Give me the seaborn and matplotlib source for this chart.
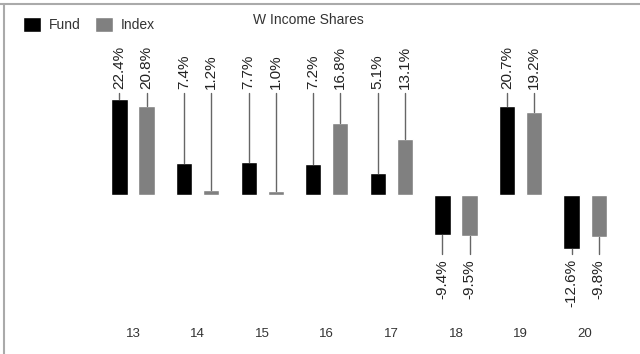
import pandas as pd
import matplotlib.pyplot as plt
import seaborn as sns
from matplotlib.lines import Line2D

# data
years = ["13", "14", "15", "16", "17", "18", "19", "20"]
fund = [22.4, 7.4, 7.7, 7.2, 5.1, -9.4, 20.7, -12.6]
index = [20.8, 1.2, 1.0, 16.8, 13.1, -9.5, 19.2, -9.8]

df = pd.DataFrame({
    "year": years * 2,
    "value": fund + index,
    "series": ["Fund"] * len(years) + ["Index"] * len(years),
})

sns.set_style("white")
plt.rcParams['font.family'] = ['Liberation Sans', 'DejaVu Sans']

fig = plt.figure(figsize=(6.4, 3.54), dpi=100)
ax = fig.add_axes([0, 0, 1, 1])

sns.barplot(data=df, x="year", y="value", hue="series",
            palette=["black", "#808080"], saturation=1,
            width=0.84, gap=0.4, ax=ax)

ax.set_ylim(-37.0, 45.35)
ax.set_xlim(-2.06, 7.85)
ax.set_axis_off()

# labels with leader lines
for cont, vals in zip(ax.containers, [fund, index]):
    for bar, v in zip(cont, vals):
        xc = bar.get_x() + bar.get_width() / 2
        if v >= 0:
            ax.plot([xc, xc], [v, 23.8], color="#666666", lw=1)
            ax.text(xc, 24.6, f"{v:.1f}%", rotation=90, ha="center", va="bottom",
                    fontsize=11, color="#222222")
        else:
            ax.plot([xc, xc], [v, -13.8], color="#666666", lw=1)
            ax.text(xc, -14.9, f"{v:.1f}%", rotation=90, ha="center", va="top",
                    fontsize=11, color="#222222")

# category labels under the bars
for i, yr in enumerate(years):
    ax.text(i, -32.3, yr, ha="center", va="center", fontsize=9.5, color="#333333")

sns.move_legend(ax, "upper left", bbox_to_anchor=(10 / 640, 1 - 4 / 354),
                bbox_transform=fig.transFigure, ncol=2, frameon=False, title=None,
                handlelength=1.3, handleheight=1.3, columnspacing=1.0,
                handletextpad=0.6, fontsize=10)
for t in ax.get_legend().get_texts():
    t.set_color("#333333")

fig.text(308 / 640, 1 - 20 / 354, "W Income Shares", ha="center", va="center",
         fontsize=10, color="#333333")

# partial frame (top and left)
fig.add_artist(Line2D([0, 1], [1 - 3.5 / 354] * 2, transform=fig.transFigure,
                      color="#aaaaaa", lw=1.5))
fig.add_artist(Line2D([3.5 / 640] * 2, [0, 1 - 3.5 / 354], transform=fig.transFigure,
                      color="#aaaaaa", lw=1.5))

fig.savefig("out.png", dpi=100)
